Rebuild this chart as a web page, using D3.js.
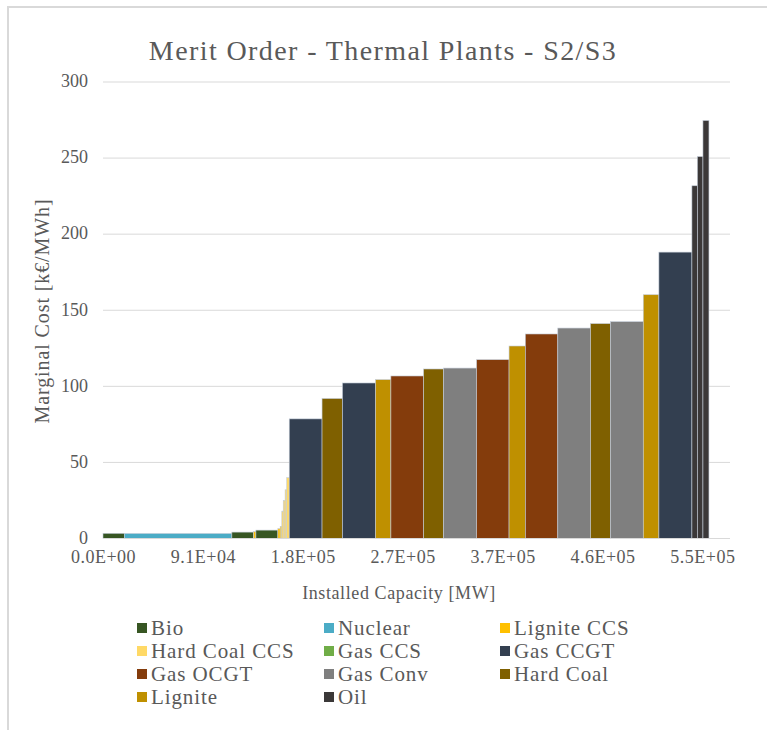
<!DOCTYPE html>
<html><head><meta charset="utf-8">
<script src="https://cdn.jsdelivr.net/npm/d3@7/dist/d3.min.js"></script>
<style>body{margin:0;background:#fff}svg{display:block}</style>
</head><body><svg id="chart" width="767" height="730"></svg>
<script>
// ---- data (merit order blocks, left to right) ----
const plantType = ["Bio","Nuclear","Bio","Lignite CCS","Bio","Lignite CCS","Lignite CCS",
  "Hard Coal CCS","Hard Coal CCS","Hard Coal CCS","Hard Coal CCS",
  "Gas CCGT","Hard Coal","Gas CCGT","Lignite","Gas OCGT","Hard Coal","Gas Conv","Gas OCGT",
  "Lignite","Gas OCGT","Gas Conv","Hard Coal","Gas Conv","Lignite","Gas CCGT","Oil","Oil","Oil"];
const capacityMW = [19500,98400,19800,2200,20100,2100,1500,
  1300,1700,1500,2300,
  30000,18700,30200,14100,29900,18300,30200,29700,
  14900,29700,29900,18300,30000,14300,30200,5000,5100,5500];
const marginalCost = [3.4,3.3,4.2,4.5,5.5,6.5,8,
  18,25,32,40,
  78.6,92,102.2,104.4,106.8,111.4,112,117.5,
  126.5,134.4,138.3,141.2,142.5,160.2,188.2,231.8,251,274.7];
const legendTypes = ["Bio","Nuclear","Lignite CCS","Hard Coal CCS","Gas CCS","Gas CCGT",
  "Gas OCGT","Gas Conv","Hard Coal","Lignite","Oil"];
const typeColors = ["#375623","#4BACC6","#FFC000","#FFD966","#70AD47","#333F50",
  "#843C0C","#7F7F7F","#7F6000","#BF9000","#3B3838"];
const yTickValues = [0,50,100,150,200,250,300];
const xTickValues = [0,91400,182800,274200,365600,457000,548400];
const xTickLabels = ["0.0E+00","9.1E+04","1.8E+05","2.7E+05","3.7E+05","4.6E+05","5.5E+05"];
const titleText = "Merit Order - Thermal Plants - S2/S3";
const xTitle = "Installed Capacity [MW]";
const yTitle = "Marginal Cost [k€/MWh]";

// ---- drawing ----
const svg = d3.select("#chart");
const FONT = "'Liberation Serif','Times New Roman',serif";
const TXT = "#595959";
const color = d3.scaleOrdinal().domain(legendTypes).range(typeColors);

const x = d3.scaleLinear().domain([0, 573650]).range([103, 730]);
const y = d3.scaleLinear().domain([0, 300]).range([538.5, 82]);

// chart border
svg.append("rect").attr("x", 8).attr("y", 7).attr("width", 900).attr("height", 900)
  .attr("fill", "none").attr("stroke", "#d9d9d9").attr("stroke-width", 2);

// title
svg.append("text").attr("x", 383).attr("y", 60).attr("text-anchor", "middle")
  .attr("font-family", FONT).attr("font-size", 28).attr("letter-spacing", 1.4)
  .attr("fill", TXT).text(titleText);

// gridlines
svg.append("g").selectAll("line").data(yTickValues.filter(v => v > 0)).join("line")
  .attr("x1", 103).attr("x2", 730).attr("y1", d => y(d)).attr("y2", d => y(d))
  .attr("stroke", "#d9d9d9").attr("stroke-width", 1);

// blocks
const ends = Array.from(d3.cumsum(capacityMW));
const blocks = plantType.map((t, i) => ({type: t, start: ends[i] - capacityMW[i], end: ends[i], cost: marginalCost[i]}));
svg.append("g").selectAll("rect").data(blocks).join("rect")
  .attr("x", d => x(d.start)).attr("width", d => x(d.end) - x(d.start))
  .attr("y", d => y(d.cost)).attr("height", d => y(0) - y(d.cost))
  .attr("fill", d => color(d.type))
  .attr("stroke", "#c3ccd8").attr("stroke-width", 0.6);

// baseline
svg.append("line").attr("x1", 103).attr("x2", 730).attr("y1", y(0)).attr("y2", y(0))
  .attr("stroke", "#d9d9d9").attr("stroke-width", 1);

// y axis labels
const yAxis = d3.axisLeft(y).tickValues(yTickValues).tickSize(0).tickPadding(0);
const gy = svg.append("g").attr("transform", "translate(88,-1)").call(yAxis);
gy.select(".domain").remove();
gy.selectAll("text").attr("font-family", FONT).attr("font-size", 18).attr("fill", TXT);

// x axis labels
const xAxis = d3.axisBottom(x).tickValues(xTickValues).tickSize(0).tickPadding(0)
  .tickFormat((d, i) => xTickLabels[i]);
const gx = svg.append("g").attr("transform", "translate(0,550)").call(xAxis);
gx.select(".domain").remove();
gx.selectAll("text").attr("font-family", FONT).attr("font-size", 18)
  .attr("letter-spacing", 0.5).attr("fill", TXT);

// axis titles
svg.append("text").attr("x", 399).attr("y", 599).attr("text-anchor", "middle")
  .attr("font-family", FONT).attr("font-size", 18).attr("letter-spacing", 0.6)
  .attr("fill", TXT).text(xTitle);
svg.append("text").attr("transform", "translate(49,311) rotate(-90)").attr("text-anchor", "middle")
  .attr("font-family", FONT).attr("font-size", 20).attr("letter-spacing", 0.9)
  .attr("fill", TXT).text(yTitle);

// legend
const colX = [137, 324, 500];
const legend = svg.append("g").selectAll("g").data(legendTypes).join("g")
  .attr("transform", (d, i) => `translate(${colX[i % 3]},${628 + Math.floor(i / 3) * 23})`);
legend.append("rect").attr("x", 0).attr("y", -5).attr("width", 10).attr("height", 10)
  .attr("fill", d => color(d));
legend.append("text").attr("x", 14).attr("y", 7)
  .attr("font-family", FONT).attr("font-size", 21).attr("letter-spacing", 0.9)
  .attr("fill", TXT).text(d => d);
</script>
</body></html>
